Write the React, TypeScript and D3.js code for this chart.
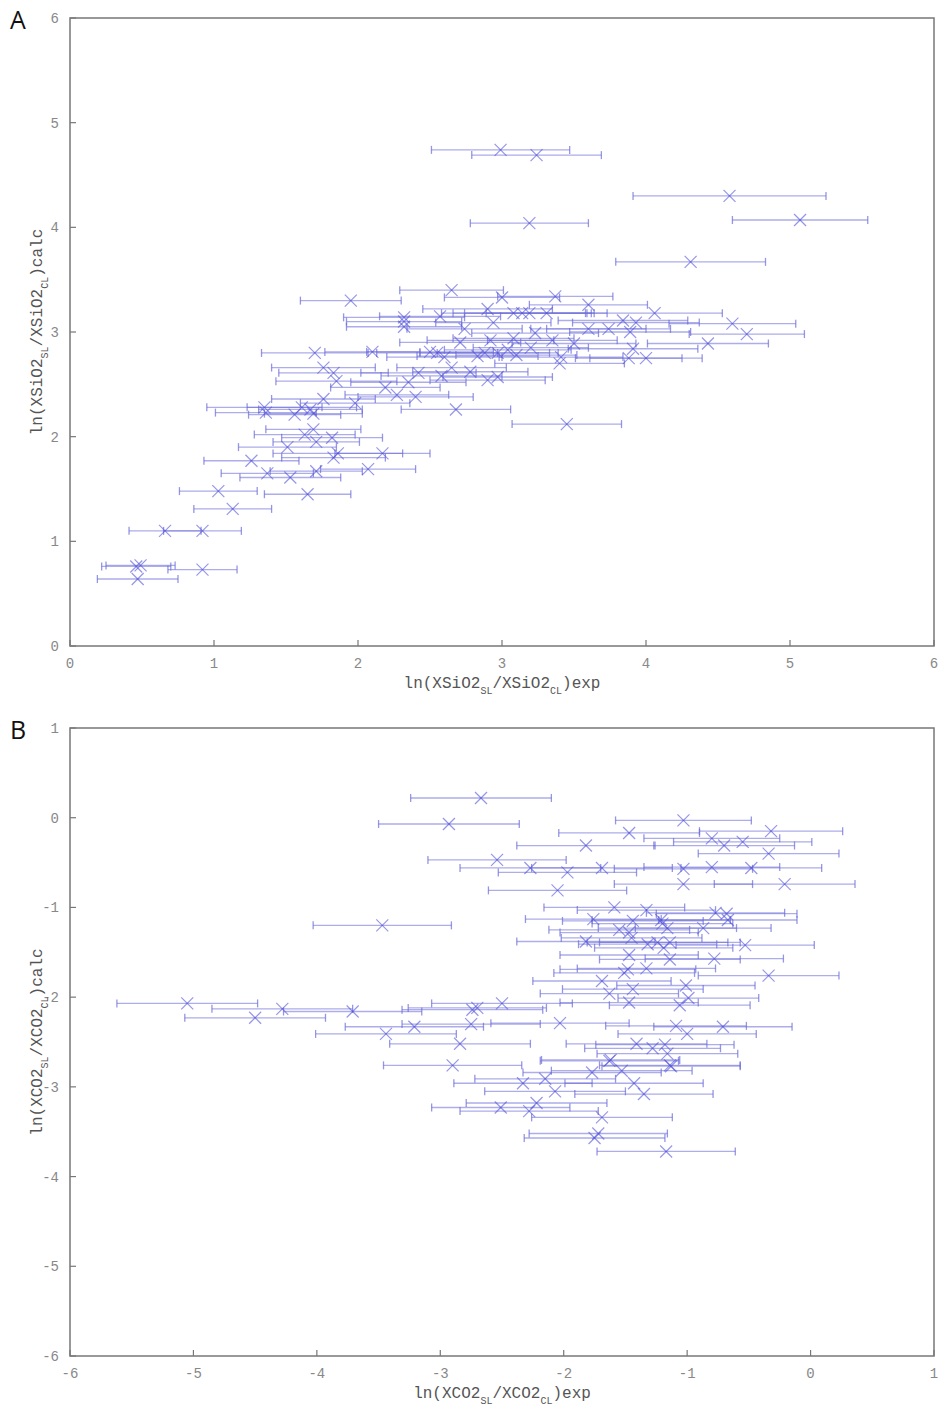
import React from "react";
import * as d3 from "d3";

// Panel A: ln(XSiO2_SL/XSiO2_CL) exp (x), calc (y), x error half-width
const siO2Exp = [0.46, 0.49, 0.47, 0.92, 0.66, 0.92, 1.13, 1.03, 1.65, 1.26, 1.37, 1.53, 1.71, 2.07, 1.51, 1.69, 1.63, 1.71, 1.82, 1.86, 1.83, 2.17, 1.35, 1.36, 1.61, 1.67, 1.69, 1.56, 1.76, 1.98, 2.68, 2.27, 2.40, 2.19, 2.35, 1.85, 1.83, 1.76, 2.42, 2.58, 2.65, 1.70, 2.10, 2.50, 2.60, 2.83, 2.88, 2.97, 3.04, 2.90, 2.97, 3.40, 3.41, 3.50, 3.35, 3.08, 2.92, 2.71, 3.23, 2.74, 2.94, 2.32, 2.32, 2.32, 2.57, 2.90, 3.08, 3.14, 3.19, 3.31, 3.60, 4.06, 3.84, 3.93, 4.60, 4.70, 3.60, 3.74, 3.89, 4.43, 3.91, 3.88, 4.00, 3.00, 3.37, 2.65, 1.95, 2.99, 3.24, 4.58, 3.19, 5.07, 4.31, 3.45, 3.10, 3.20, 2.78, 2.55];
const siO2Calc = [0.76, 0.77, 0.64, 0.73, 1.10, 1.10, 1.31, 1.48, 1.45, 1.77, 1.65, 1.61, 1.67, 1.69, 1.90, 2.07, 2.02, 1.95, 1.99, 1.84, 1.80, 1.84, 2.28, 2.23, 2.28, 2.26, 2.22, 2.21, 2.36, 2.32, 2.26, 2.40, 2.38, 2.47, 2.52, 2.53, 2.61, 2.66, 2.61, 2.58, 2.66, 2.80, 2.81, 2.81, 2.76, 2.77, 2.80, 2.80, 2.83, 2.54, 2.57, 2.70, 2.76, 2.89, 2.92, 2.94, 2.92, 2.90, 2.99, 3.03, 3.09, 3.14, 3.10, 3.05, 3.15, 3.22, 3.18, 3.18, 3.18, 3.18, 3.26, 3.18, 3.11, 3.09, 3.08, 2.98, 3.03, 3.03, 3.00, 2.89, 2.84, 2.75, 2.75, 3.33, 3.34, 3.40, 3.30, 4.74, 4.69, 4.30, 4.04, 4.07, 3.67, 2.12, 2.78, 2.85, 2.62, 2.80];
const siO2Err = [0.24, 0.24, 0.28, 0.24, 0.25, 0.27, 0.27, 0.27, 0.30, 0.33, 0.32, 0.35, 0.32, 0.33, 0.34, 0.33, 0.35, 0.30, 0.35, 0.45, 0.36, 0.33, 0.40, 0.35, 0.38, 0.36, 0.34, 0.32, 0.36, 0.38, 0.38, 0.36, 0.40, 0.38, 0.40, 0.42, 0.38, 0.36, 0.40, 0.42, 0.38, 0.37, 0.33, 0.44, 0.40, 0.42, 0.45, 0.42, 0.44, 0.40, 0.38, 0.45, 0.43, 0.43, 0.45, 0.42, 0.44, 0.42, 0.44, 0.40, 0.40, 0.42, 0.40, 0.40, 0.42, 0.45, 0.50, 0.48, 0.45, 0.42, 0.41, 0.47, 0.45, 0.44, 0.44, 0.40, 0.40, 0.43, 0.42, 0.42, 0.45, 0.37, 0.39, 0.40, 0.40, 0.36, 0.35, 0.48, 0.45, 0.67, 0.41, 0.47, 0.52, 0.38, 0.42, 0.40, 0.40, 0.42];

// Panel B: ln(XCO2_SL/XCO2_CL) exp (x), calc (y), x error half-width
const co2Exp = [-2.67, -2.93, -1.03, -0.32, -0.55, -0.70, -0.80, -1.47, -1.82, -0.34, -2.54, -2.27, -1.97, -1.69, -1.03, -0.80, -0.48, -1.03, -0.21, -2.05, -3.47, -1.59, -1.33, -0.77, -0.68, -0.67, -1.76, -1.44, -1.21, -1.20, -1.16, -1.55, -1.47, -0.87, -1.45, -1.82, -1.32, -1.24, -1.19, -1.14, -0.53, -1.47, -1.14, -0.78, -1.48, -1.51, -1.33, -0.34, -1.69, -1.44, -1.63, -1.01, -0.99, -1.47, -1.06, -2.03, -1.09, -0.71, -1.00, -1.41, -1.18, -1.28, -1.16, -1.63, -1.14, -1.77, -1.53, -2.84, -1.13, -2.90, -2.15, -2.33, -1.43, -2.07, -1.35, -2.22, -2.51, -2.28, -1.69, -1.72, -1.75, -1.17, -5.05, -4.50, -4.28, -3.71, -2.74, -2.70, -2.50, -3.21, -3.44, -2.75, -1.62];
const co2Calc = [0.22, -0.07, -0.03, -0.15, -0.27, -0.31, -0.23, -0.17, -0.31, -0.40, -0.47, -0.56, -0.61, -0.56, -0.57, -0.55, -0.56, -0.74, -0.74, -0.81, -1.20, -1.00, -1.03, -1.06, -1.07, -1.14, -1.13, -1.15, -1.14, -1.18, -1.23, -1.25, -1.28, -1.23, -1.34, -1.38, -1.41, -1.39, -1.45, -1.39, -1.42, -1.53, -1.58, -1.57, -1.69, -1.73, -1.68, -1.76, -1.82, -1.91, -1.96, -1.87, -2.01, -2.06, -2.09, -2.29, -2.32, -2.33, -2.41, -2.52, -2.53, -2.57, -2.63, -2.71, -2.76, -2.84, -2.82, -2.52, -2.77, -2.76, -2.91, -2.96, -2.96, -3.05, -3.08, -3.18, -3.23, -3.27, -3.34, -3.52, -3.57, -3.72, -2.07, -2.23, -2.13, -2.16, -2.14, -2.12, -2.07, -2.33, -2.41, -2.30, -2.70];
const co2Err = [0.57, 0.57, 0.55, 0.58, 0.56, 0.57, 0.55, 0.57, 0.56, 0.57, 0.56, 0.57, 0.56, 0.57, 0.56, 0.55, 0.57, 0.56, 0.57, 0.56, 0.56, 0.57, 0.56, 0.56, 0.57, 0.56, 0.55, 0.57, 0.56, 0.57, 0.56, 0.57, 0.56, 0.55, 0.57, 0.56, 0.56, 0.57, 0.56, 0.57, 0.56, 0.56, 0.57, 0.56, 0.55, 0.57, 0.56, 0.57, 0.56, 0.57, 0.56, 0.56, 0.57, 0.56, 0.57, 0.56, 0.57, 0.56, 0.56, 0.57, 0.56, 0.55, 0.57, 0.56, 0.57, 0.56, 0.57, 0.57, 0.56, 0.56, 0.57, 0.56, 0.56, 0.57, 0.56, 0.57, 0.56, 0.56, 0.57, 0.56, 0.57, 0.56, 0.57, 0.57, 0.57, 0.56, 0.57, 0.56, 0.57, 0.56, 0.57, 0.56, 0.56];

const ticksA_X = [0, 1, 2, 3, 4, 5, 6];
const ticksA_Y = [0, 1, 2, 3, 4, 5, 6];
const ticksB_X = [-6, -5, -4, -3, -2, -1, 0, 1];
const ticksB_Y = [1, 0, -1, -2, -3, -4, -5, -6];

const MONO = "'Liberation Mono', 'DejaVu Sans Mono', monospace";
const BAR = "#6a6ad8";
const MARK = "#5050d8";

type PanelProps = {
  top: number;
  xDom: [number, number];
  yDom: [number, number];
  xs: number[];
  ys: number[];
  es: number[];
  xt: number[];
  yt: number[];
  letter: string;
  v: string;
};

function Panel({ top, xDom, yDom, xs, ys, es, xt, yt, letter, v }: PanelProps) {
  const left = 70, right = 934, h = 628;
  const x = d3.scaleLinear().domain(xDom).range([left, right]);
  const y = d3.scaleLinear().domain(yDom).range([top + h, top]);
  const bottom = top + h;
  const cs = 6;
  const cap = 4;
  return (
    <g>
      <text x={10} y={top + 11} fontFamily="'Open Sans', 'Noto Sans', sans-serif" fontSize={25} fill="#111">{letter}</text>
      {/* error bars */}
      <g stroke={BAR} strokeOpacity={0.55} strokeWidth={1.3} fill="none">
        {xs.map((xv, i) => {
          const x0 = x(xv - es[i]), x1 = x(xv + es[i]), yy = y(ys[i]);
          return (
            <g key={i}>
              <line x1={x0} x2={x1} y1={yy} y2={yy} />
              <line x1={x0} x2={x0} y1={yy - cap} y2={yy + cap} strokeOpacity={0.7} />
              <line x1={x1} x2={x1} y1={yy - cap} y2={yy + cap} strokeOpacity={0.7} />
            </g>
          );
        })}
      </g>
      {/* crosses */}
      <g stroke={MARK} strokeOpacity={0.6} strokeWidth={1.2}>
        {xs.map((xv, i) => {
          const cx = x(xv), cy = y(ys[i]);
          return (
            <g key={i}>
              <line x1={cx - cs} x2={cx + cs} y1={cy - cs} y2={cy + cs} />
              <line x1={cx - cs} x2={cx + cs} y1={cy + cs} y2={cy - cs} />
            </g>
          );
        })}
      </g>
      {/* frame */}
      <rect x={left} y={top} width={right - left} height={h} fill="none" stroke="#777" strokeWidth={1.5} />
      {xt.map((t) => (
        <g key={"x" + t}>
          <line x1={x(t)} x2={x(t)} y1={bottom} y2={bottom - 6} stroke="#777" strokeWidth={1.2} />
          <text x={x(t)} y={bottom + 22} textAnchor="middle" fontFamily={MONO} fontSize={14} fill="#888">{t}</text>
        </g>
      ))}
      {yt.map((t) => (
        <g key={"y" + t}>
          <line x1={left} x2={left + 6} y1={y(t)} y2={y(t)} stroke="#777" strokeWidth={1.2} />
          <text x={left - 11} y={y(t) + 5} textAnchor="end" fontFamily={MONO} fontSize={14} fill="#888">{t}</text>
        </g>
      ))}
      <text x={(left + right) / 2} y={bottom + 42} textAnchor="middle" fontFamily={MONO} fontSize={16} fill="#555">
        ln({v}<tspan baselineShift="sub" fontSize={10}>SL</tspan>/{v}<tspan baselineShift="sub" fontSize={10}>CL</tspan>)exp
      </text>
      <text transform={`translate(42,${top + h / 2}) rotate(-90)`} textAnchor="middle" fontFamily={MONO} fontSize={16} fill="#555">
        ln({v}<tspan baselineShift="sub" fontSize={10}>SL</tspan>/{v}<tspan baselineShift="sub" fontSize={10}>CL</tspan>)calc
      </text>
    </g>
  );
}

export default function App() {
  return (
    <svg width={940} height={1410} style={{ position: "absolute", left: 0, top: 0, background: "#fff" }}>
      <rect width={940} height={1410} fill="#fff" />
      <Panel top={18} xDom={[0, 6]} yDom={[0, 6]} xs={siO2Exp} ys={siO2Calc} es={siO2Err} xt={ticksA_X} yt={ticksA_Y} letter="A" v="XSiO2" />
      <Panel top={728} xDom={[-6, 1]} yDom={[-6, 1]} xs={co2Exp} ys={co2Calc} es={co2Err} xt={ticksB_X} yt={ticksB_Y} letter="B" v="XCO2" />
    </svg>
  );
}
